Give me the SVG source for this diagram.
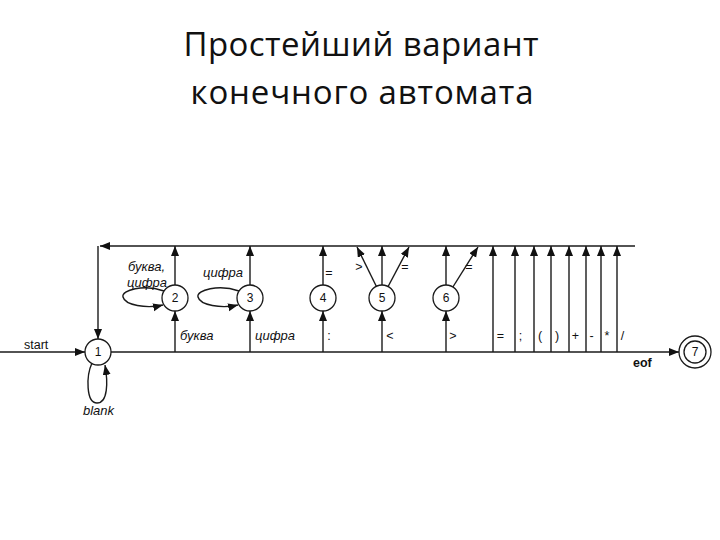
<svg xmlns="http://www.w3.org/2000/svg" width="720" height="540" viewBox="0 0 720 540">
<style>
.title{font-family:"Open Sans","Liberation Sans",sans-serif;font-size:33px;fill:#111;}
.lbl{font-family:"Liberation Sans",Arial,sans-serif;font-size:12.5px;fill:#111;}
.it{font-style:italic;font-size:13px;}
.num{font-family:"Liberation Sans",Arial,sans-serif;font-size:12px;fill:#111;text-anchor:middle;}
.edge{fill:none;stroke:#1a1a1a;stroke-width:1.4;}
.arr{marker-end:url(#ah);}
.node{fill:#fff;stroke:#1a1a1a;stroke-width:1.3;}
</style>
<defs>
<marker id="ah" markerUnits="userSpaceOnUse" markerWidth="11" markerHeight="9" refX="10" refY="4" orient="auto">
<path d="M0,0 L10,4 L0,8 z" fill="#111"/>
</marker>
</defs>
<rect width="720" height="540" fill="#fff"/>
<g id="title">
<text class="title" x="361" y="56" text-anchor="middle" textLength="355" lengthAdjust="spacing">Простейший вариант</text>
<text class="title" x="362" y="104" text-anchor="middle" textLength="343" lengthAdjust="spacing">конечного автомата</text>
</g>
<g id="connectors">
<path class="edge arr" d="M635,246 L100,246"/>
<path class="edge arr" d="M98,246 L98,339"/>
<path class="edge arr" d="M0,352 L85,352"/>
<path class="edge arr" d="M111,352 L679,352"/>
<path class="edge arr" d="M92,363 C86,376 86,403 97,403 C108,403 108,382 105,365"/>
<path class="edge arr" d="M175,352 L175,311"/>
<path class="edge arr" d="M175,285 L175,246"/>
<path class="edge arr" d="M164,291 C144,284 121,290 123,297 C125,305 146,309 163,305"/>
<path class="edge arr" d="M250,352 L250,311"/>
<path class="edge arr" d="M250,285 L250,246"/>
<path class="edge arr" d="M239,291 C219,284 196,290 198,297 C200,305 221,309 238,305"/>
<path class="edge arr" d="M323,352 L323,311"/>
<path class="edge arr" d="M323,285 L323,246"/>
<path class="edge arr" d="M382,352 L382,311"/>
<path class="edge arr" d="M382,285 L382,246"/>
<path class="edge arr" d="M376.3,286.3 L357,247"/>
<path class="edge arr" d="M388.1,286.5 L409,247"/>
<path class="edge arr" d="M446,352 L446,311"/>
<path class="edge arr" d="M446,285 L446,246"/>
<path class="edge arr" d="M452.9,287 L478,247"/>
<path class="edge arr" d="M493,352 L493,246"/>
<path class="edge arr" d="M515,352 L515,246"/>
<path class="edge arr" d="M534,352 L534,246"/>
<path class="edge arr" d="M551,352 L551,246"/>
<path class="edge arr" d="M569,352 L569,246"/>
<path class="edge arr" d="M586,352 L586,246"/>
<path class="edge arr" d="M601,352 L601,246"/>
<path class="edge arr" d="M617,352 L617,246"/>
</g>
<g id="edge-labels">
<text class="lbl" x="24" y="349">start</text>
<text class="lbl it" x="83" y="415">blank</text>
<text class="lbl it" x="128" y="271">буква,</text>
<text class="lbl it" x="127" y="287">цифра</text>
<text class="lbl it" x="203" y="277">цифра</text>
<text class="lbl it" x="180" y="340">буква</text>
<text class="lbl it" x="255" y="340">цифра</text>
<text class="lbl" x="329" y="277" text-anchor="middle">=</text>
<text class="lbl" x="329" y="340" text-anchor="middle">:</text>
<text class="lbl" x="359" y="271" text-anchor="middle">&gt;</text>
<text class="lbl" x="405" y="271" text-anchor="middle">=</text>
<text class="lbl" x="390" y="340" text-anchor="middle">&lt;</text>
<text class="lbl" x="469" y="271" text-anchor="middle">=</text>
<text class="lbl" x="453" y="340" text-anchor="middle">&gt;</text>
<text class="lbl" x="500.5" y="340" text-anchor="middle">=</text>
<text class="lbl" x="520.5" y="340" text-anchor="middle">;</text>
<text class="lbl" x="540" y="340" text-anchor="middle">(</text>
<text class="lbl" x="557" y="340" text-anchor="middle">)</text>
<text class="lbl" x="575.5" y="340" text-anchor="middle">+</text>
<text class="lbl" x="591.5" y="340" text-anchor="middle">-</text>
<text class="lbl" x="607" y="340" text-anchor="middle">*</text>
<text class="lbl" x="622.5" y="340" text-anchor="middle">/</text>
<text class="lbl" x="633" y="367" font-weight="bold">eof</text>
</g>
<g id="node1"><circle class="node" cx="98" cy="352" r="13"/><text class="num" x="98" y="356">1</text></g>
<g id="node2"><circle class="node" cx="175" cy="298" r="13"/><text class="num" x="175" y="302">2</text></g>
<g id="node3"><circle class="node" cx="250" cy="298" r="13"/><text class="num" x="250" y="302">3</text></g>
<g id="node4"><circle class="node" cx="323" cy="298" r="13"/><text class="num" x="323" y="302">4</text></g>
<g id="node5"><circle class="node" cx="382" cy="298" r="13"/><text class="num" x="382" y="302">5</text></g>
<g id="node6"><circle class="node" cx="446" cy="298" r="13"/><text class="num" x="446" y="302">6</text></g>
<g id="node7"><circle class="node" cx="695" cy="352" r="16"/><circle class="node" cx="695" cy="352" r="11"/><text class="num" x="695" y="356">7</text></g>
</svg>
